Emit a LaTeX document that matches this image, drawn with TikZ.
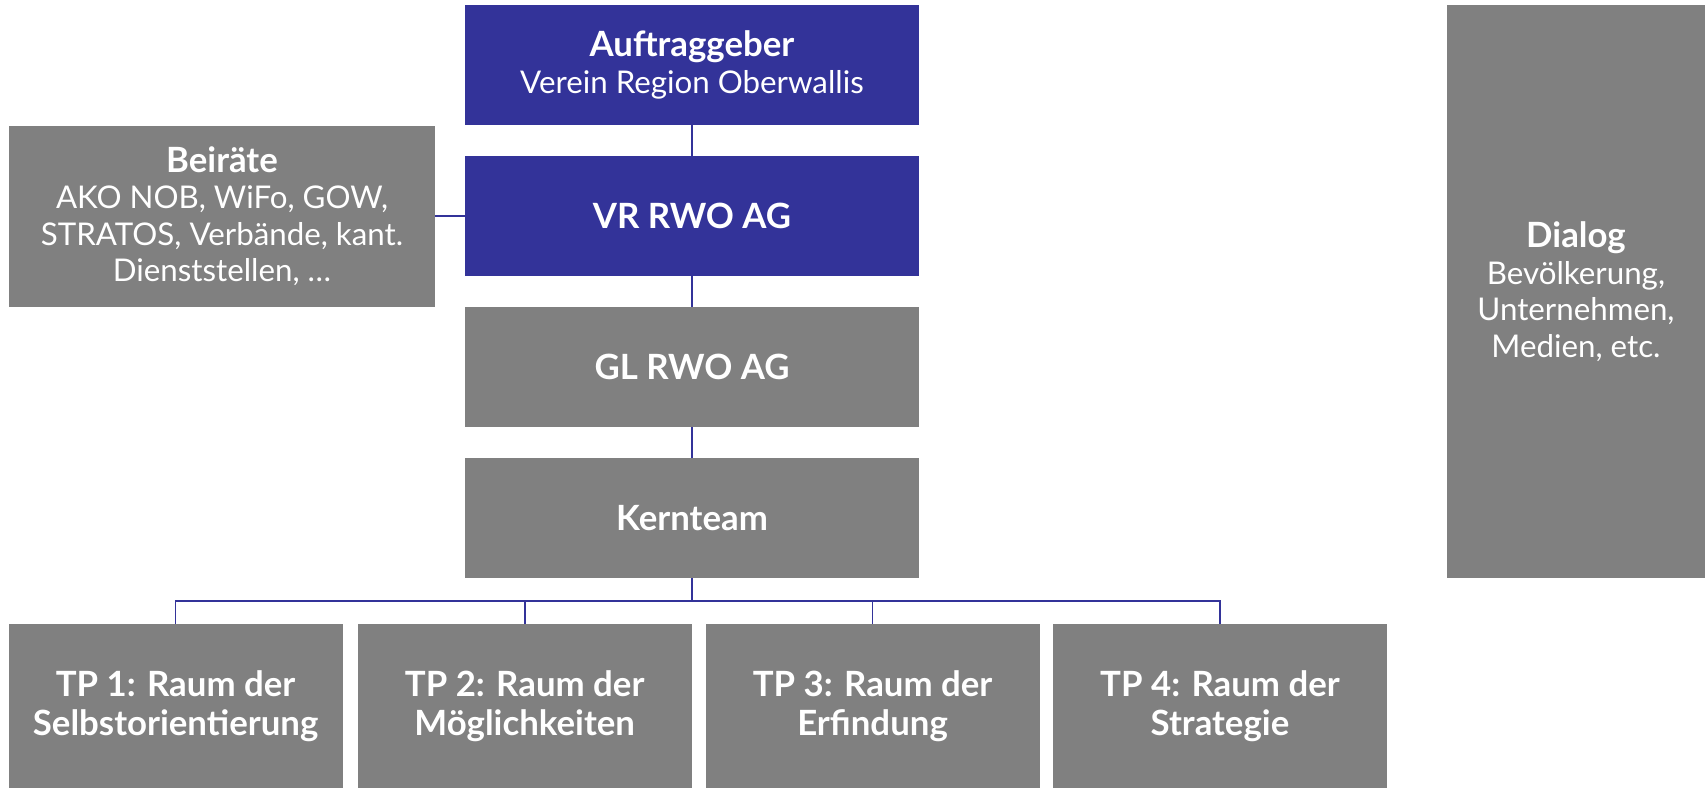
\documentclass[tikz,border=0pt]{standalone}
\usepackage{fontspec}
\setmainfont{Lato}
\usetikzlibrary{shapes.geometric, arrows}
\definecolor{RWOblue}{HTML}{333399}
\definecolor{RWOgrey}{HTML}{808080}
\newcommand{\boxhead}[1]{{\fontsize{9.9}{10.4}\selectfont\bfseries #1}}
\tikzstyle{lead} = [rectangle, minimum width=4.54cm, minimum height=1.2cm, inner sep=0pt, outer sep=0pt, text centered, align=center, text=white, fill=RWOblue, font=\fontsize{8.9}{10.4}\selectfont]
\tikzstyle{unit} = [rectangle, minimum width=4.54cm, minimum height=1.2cm, inner sep=0pt, outer sep=0pt, text centered, align=center, text=white, fill=RWOgrey, font=\fontsize{8.9}{10.4}\selectfont]
\tikzstyle{tp} = [rectangle, minimum width=3.34cm, minimum height=1.64cm, inner sep=0pt, outer sep=0pt, text centered, align=center, text=white, fill=RWOgrey, font=\fontsize{9.9}{11}\selectfont\bfseries]
\tikzstyle{line} = [draw=RWOblue, line width=0.5pt]

\begin{document}
\begin{tikzpicture}[node distance=1.51cm]
\useasboundingbox (0,0) rectangle (17.05,-7.88);

\node (auftrag) [lead] at (6.92,-0.652) {\boxhead{Auftraggeber}\\Verein Region Oberwallis};
\node (vr) [lead, below of=auftrag] {\boxhead{VR RWO AG}};
\node (gl) [unit, below of=vr] {\boxhead{GL RWO AG}};
\node (kern) [unit, below of=gl] {\boxhead{Kernteam}};

\node (beirat) [unit, left of=vr, xshift=-3.19cm, minimum width=4.26cm, minimum height=1.81cm] {\boxhead{Beiräte}\\AKO NOB, WiFo, GOW,\\STRATOS, Verbände, kant.\\Dienststellen, \dots};
\node (dialog) [unit, right of=vr, xshift=7.33cm, yshift=-0.755cm, minimum width=2.58cm, minimum height=5.73cm] {\boxhead{Dialog}\\Bevölkerung,\\Unternehmen,\\Medien, etc.};

\node (tp1) [tp] at (1.756,-7.06) {TP 1: Raum der\\Selbstorientierung};
\node (tp2) [tp] at (5.247,-7.06) {TP 2: Raum der\\Möglichkeiten};
\node (tp3) [tp] at (8.726,-7.06) {TP 3: Raum der\\Erfindung};
\node (tp4) [tp] at (12.20,-7.06) {TP 4: Raum der\\Strategie};

\coordinate (bus) at (6.92,-6.01);

\draw [line] (auftrag) -- (vr);
\draw [line] (vr) -- (gl);
\draw [line] (gl) -- (kern);
\draw [line] (beirat) -- (vr);

\draw [line] (kern) -- (bus);
\draw [line] (tp1.north) |- (bus);
\draw [line] (tp2.north) |- (bus);
\draw [line] (tp3.north) |- (bus);
\draw [line] (tp4.north) |- (bus);

\end{tikzpicture}
\end{document}
